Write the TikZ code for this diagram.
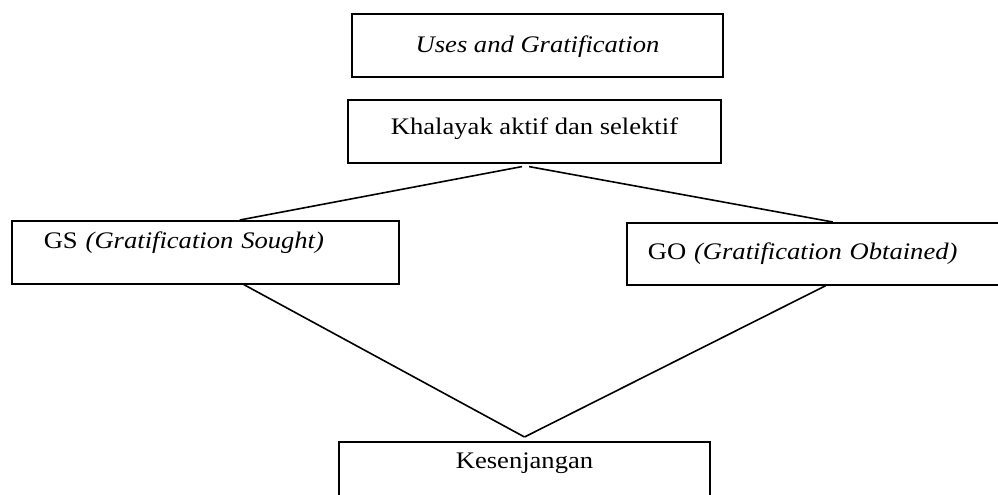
\documentclass[tikz,border=0pt]{standalone}
\usepackage{fontspec}
\setmainfont{Liberation Serif}[FakeStretch=1.12]
\usetikzlibrary{positioning}

\begin{document}
\begin{tikzpicture}[x=0.75pt, y=-0.75pt,
    box/.style={draw, line width=1.2pt, inner sep=0pt, font=\fontsize{17.8}{20}\selectfont},
    link/.style={line width=1.2pt}]

                % Area gambar
                \useasboundingbox (0,0) rectangle (998,495);
                \clip (0,0) rectangle (998,495);

                % Kotak-kotak
                \node[box, anchor=north, minimum width=278.25pt, text height=29.25pt, text depth=18pt] (teori) at (537.5,13) {\textit{Uses and Gratification}};
                \node[box, anchor=north, minimum width=279.75pt, text height=26.25pt, text depth=21pt] (khalayak) at (534.5,99) {Khalayak aktif dan selektif};
                \node[box, anchor=north west, inner xsep=24pt, text width=242.25pt, align=left, text height=21pt, text depth=26.25pt] (gs) at (11,220) {GS \textit{(Gratification Sought)}};
                \node[box, anchor=north west, inner xsep=15.75pt, text width=252pt, align=left, text height=27.75pt, text depth=18.75pt] (go) at (626,222) {GO \textit{(Gratification Obtained)}};
                \node[box, anchor=north, minimum width=278.25pt, text height=20.25pt, text depth=45pt] (kesenjangan) at (524.5,441) {Kesenjangan};

                % Garis penghubung atas
                \draw[link] ([xshift=-9.4pt, yshift=-2.25pt]khalayak.south) -- ([xshift=25.9pt]gs.north);
                \draw[link] ([xshift=-4.1pt, yshift=-2.25pt]khalayak.south) -- ([xshift=12.75pt]go.north);

                % Garis penghubung bawah
                \draw[link] ([xshift=28.9pt]gs.south) -- ([yshift=3pt]kesenjangan.north);
                \draw[link] ([xshift=7.5pt]go.south) -- ([yshift=3pt]kesenjangan.north);

\end{tikzpicture}
\end{document}
